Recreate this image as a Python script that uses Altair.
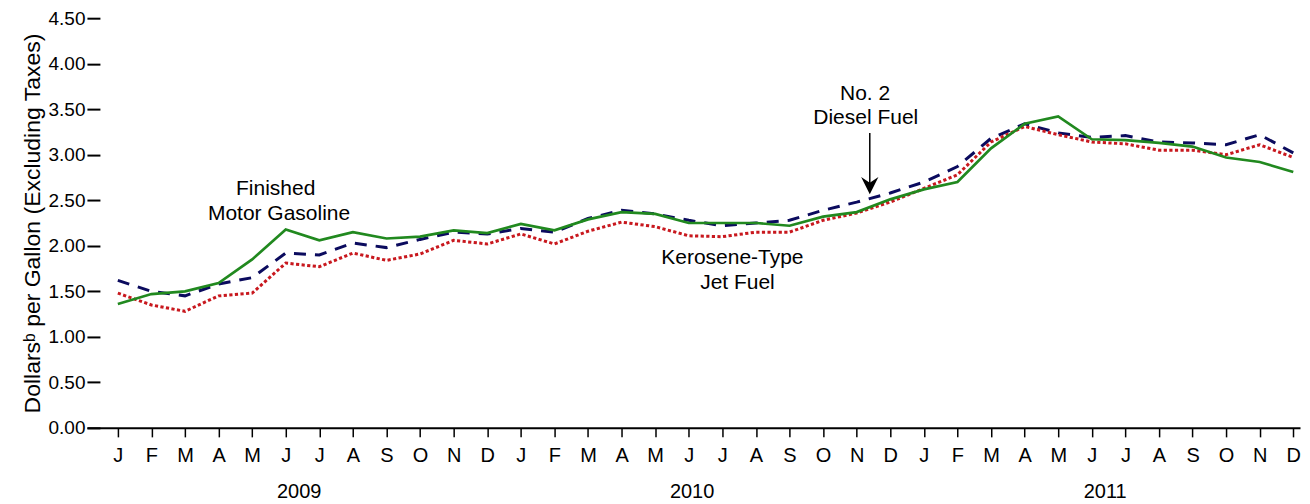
import altair as alt
import pandas as pd

month_letters = ["J", "F", "M", "A", "M", "J", "J", "A", "S", "O", "N", "D"]
months = list(range(36))

gasoline = [1.36, 1.47, 1.50, 1.59, 1.85, 2.18, 2.06, 2.15, 2.08, 2.10, 2.17, 2.14,
            2.24, 2.17, 2.29, 2.37, 2.35, 2.25, 2.25, 2.25, 2.22, 2.32, 2.37, 2.51,
            2.62, 2.70, 3.07, 3.34, 3.42, 3.17, 3.16, 3.13, 3.09, 2.97, 2.92, 2.81]
diesel = [1.62, 1.50, 1.45, 1.58, 1.65, 1.92, 1.90, 2.03, 1.98, 2.07, 2.15, 2.13,
          2.19, 2.15, 2.30, 2.39, 2.35, 2.28, 2.22, 2.25, 2.28, 2.39, 2.48, 2.58,
          2.70, 2.87, 3.18, 3.34, 3.24, 3.19, 3.21, 3.14, 3.13, 3.11, 3.22, 3.02]
jet = [1.48, 1.35, 1.28, 1.45, 1.48, 1.81, 1.77, 1.92, 1.84, 1.91, 2.06, 2.02,
       2.13, 2.02, 2.16, 2.26, 2.21, 2.11, 2.10, 2.15, 2.15, 2.28, 2.36, 2.48,
       2.63, 2.78, 3.14, 3.31, 3.22, 3.14, 3.12, 3.05, 3.05, 3.00, 3.11, 2.97]

years = ["2009", "2010", "2011"]
year_pos = [5.4, 17.1, 29.4]

ann_text = ["Finished", "Motor Gasoline", "Kerosene-Type", "Jet Fuel", "No. 2", "Diesel Fuel"]
ann_x = [4.7, 4.8, 18.3, 18.45, 22.25, 22.27]
ann_y = [2.62, 2.35, 1.87, 1.59, 3.67, 3.40]

arrow_x = [22.39]
arrow_top = [3.24]
arrow_bottom = [2.64]
arrow_head = [2.66]

df = pd.DataFrame({"m": months, "gasoline": gasoline, "diesel": diesel, "jet": jet})
years_df = pd.DataFrame({"x": year_pos, "t": years})
ann_df = pd.DataFrame({"x": ann_x, "y": ann_y, "t": ann_text})
arrow_df = pd.DataFrame({"x": arrow_x, "y1": arrow_top, "y2": arrow_bottom, "h": arrow_head})

FONT = "Liberation Sans"
label_expr = "[" + ",".join("'%s'" % m for m in month_letters) + "][datum.value % 12]"

xscale = alt.Scale(domain=[-0.92, 35.2], nice=False, zero=False)
yscale = alt.Scale(domain=[0, 4.5], nice=False)

x_axis = alt.Axis(values=months, labelExpr=label_expr, title=None)
y_axis = alt.Axis(values=[0, 0.5, 1, 1.5, 2, 2.5, 3, 3.5, 4, 4.5], format=".2f",
                  title="Dollarsᵇ per Gallon (Excluding Taxes)")


def X(field):
    return alt.X(field, scale=xscale, axis=x_axis)


def Y(field):
    return alt.Y(field, scale=yscale, axis=y_axis)


base = alt.Chart(df)

diesel_line = base.mark_line(color="#0b0b5e", strokeWidth=3, strokeDash=[12, 9]).encode(
    x=X("m:Q"), y=Y("diesel:Q"))
jet_line = base.mark_line(color="#c8181e", strokeWidth=3, strokeDash=[3.2, 2.4]).encode(
    x=X("m:Q"), y=Y("jet:Q"))
gas_line = base.mark_line(color="#21891f", strokeWidth=2.7).encode(
    x=X("m:Q"), y=Y("gasoline:Q"))

year_text = alt.Chart(years_df).mark_text(fontSize=20, font=FONT, color="black",
                                          baseline="middle", align="center").encode(
    x=X("x:Q"), y=alt.value(474), text="t:N")

ann = alt.Chart(ann_df).mark_text(fontSize=21, font=FONT, color="black",
                                  baseline="middle", align="center").encode(
    x=X("x:Q"), y=Y("y:Q"), text="t:N")

arrow_line = alt.Chart(arrow_df).mark_rule(color="black", strokeWidth=1.5).encode(
    x=X("x:Q"), y=Y("y1:Q"), y2="y2:Q")
arrow_tip = alt.Chart(arrow_df).mark_point(
    shape="M0,1 L-1,-1 L0,-0.35 L1,-1 Z", filled=True, color="black", opacity=1, size=300
).encode(x=X("x:Q"), y=Y("h:Q"))

chart = alt.layer(diesel_line, jet_line, gas_line, year_text, ann, arrow_line, arrow_tip).properties(
    width=1214, height=410,
    autosize=alt.AutoSizeParams(type="none"),
    padding={"left": 79, "top": 10, "right": 2, "bottom": 76},
    background="white",
).configure_view(
    stroke=None
).configure_axisX(
    grid=False, domainColor="black", domainWidth=2, tickColor="black", tickWidth=1.5,
    tickSize=9, labelPadding=9, labelFontSize=20, labelFont=FONT, labelColor="black",
    labelFlush=False, labelOverlap=False, labelBound=False
).configure_axisY(
    grid=False, domain=False, tickColor="black", tickWidth=2, tickSize=13, offset=-13,
    labelPadding=2, labelFontSize=19, labelFont=FONT, labelColor="black",
    labelOverlap=False, labelBound=False,
    titleFont=FONT, titleFontSize=23, titleFontWeight="normal", titleColor="black",
    titlePadding=3
)

chart.save("out.html", embed_options={"renderer": "svg", "actions": False})
